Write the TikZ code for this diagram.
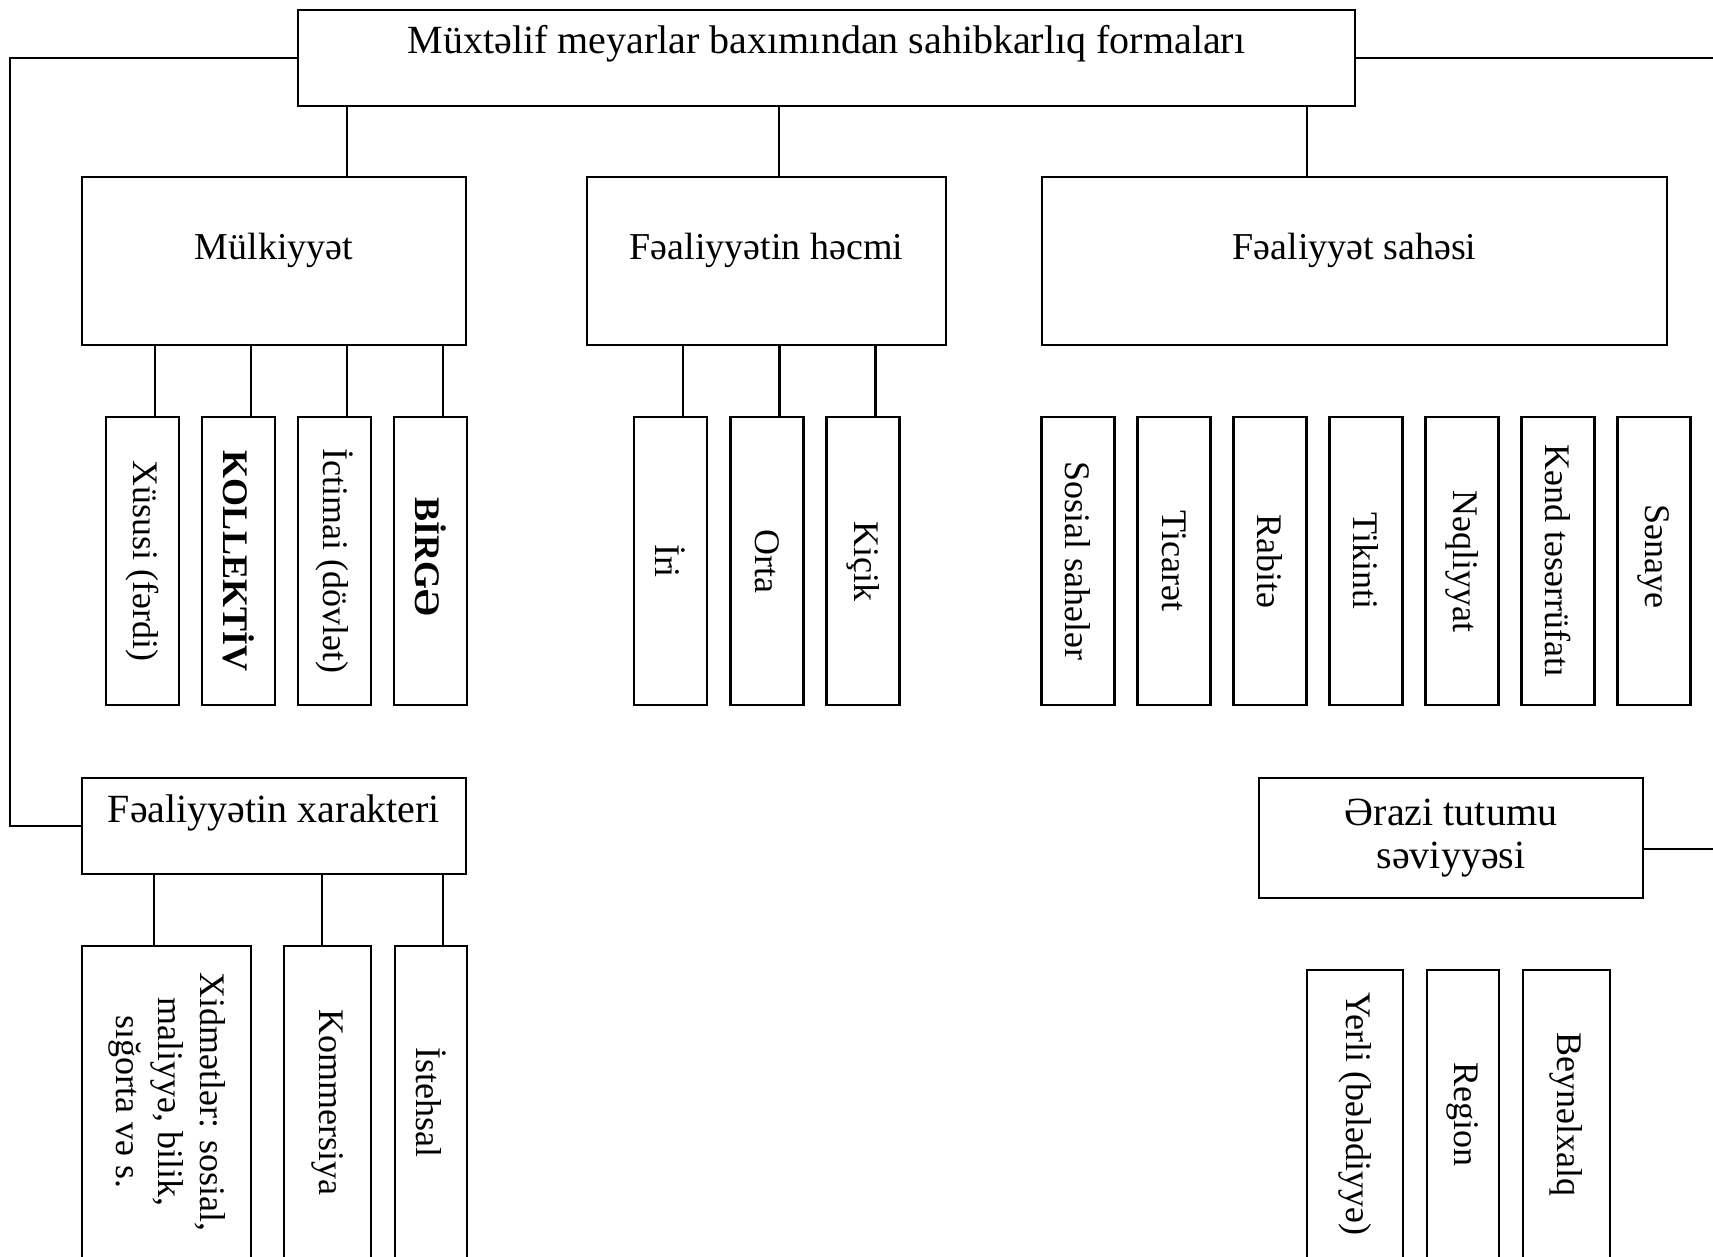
\documentclass[tikz,border=0pt]{standalone}
\usepackage{fontspec}
\setmainfont{Liberation Serif}
\usepackage{graphicx}
\usetikzlibrary{positioning}

\newcommand{\vtext}[1]{\rotatebox[origin=c]{-90}{#1}}

\begin{document}
\begin{tikzpicture}[x=1pt, y=-1pt, line width=2.2pt,
    box/.style={draw, inner sep=0pt, outer sep=0pt, font=\fontsize{38}{43}\selectfont},
    hdr/.style={box, text height=27pt},
    big/.style={font=\fontsize{40}{43}\selectfont},
    vbox/.style={draw, inner sep=0pt, outer sep=0pt, minimum width=73pt, minimum height=288pt, font=\fontsize{36}{42}\selectfont}]

    \clip (0,0) rectangle (1713,1256);
    \coordinate (trunkL) at (10,0);
    \coordinate (edgeR) at (1713,0);

    % Main box
    \node[hdr, big, minimum width=1057pt, minimum height=96pt, text depth=37pt] (main) at (826.5,58) {Müxtəlif meyarlar baxımından sahibkarlıq formaları};

    % Criteria
    \node[hdr, minimum width=384pt, minimum height=168pt, text depth=31pt] (mulk) at (274,261) {Mülkiyyət};
    \node[hdr, minimum width=359pt, minimum height=168pt, text depth=31pt] (hecm) at (766.5,261) {Fəaliyyətin həcmi};
    \node[hdr, minimum width=625pt, minimum height=168pt, text depth=31pt] (sahe) at (1354.5,261) {Fəaliyyət sahəsi};
    \node[hdr, big, minimum width=384pt, minimum height=96pt, text depth=35pt] (xarak) at (274,826) {Fəaliyyətin xarakteri};
    \node[box, big, minimum width=384pt, minimum height=120pt, align=center] (erazi) at (1451,838) {Ərazi tutumu\\səviyyəsi};

    \foreach \x/\n in {347/mulk, 779/hecm, 1307/sahe} {
        \draw (\x,0 |- main.south) -- (\x,0 |- \n.north);
    }

    % Ownership
    \foreach \i/\x/\v in {
            1/142.5/{Xüsusi (fərdi)},
            2/238.5/{\textbf{KOLLEKTİV}},
            3/334.5/{İctimai (dövlət)},
            4/430.5/{\textbf{BİRGƏ}}
            } {
        \node[vbox] (mk\i) at (\x,561) {\vtext{\v}};
        \draw ([xshift=12.5pt]mk\i.north) -- ([xshift=12.5pt]mk\i.north |- mulk.south);
    }

    % Volume
    \foreach \i/\x/\v in {1/670.5/İri, 2/767/Orta, 3/863/Kiçik} {
        \node[vbox] (hc\i) at (\x,561) {\vtext{\v}};
        \draw ([xshift=12.5pt]hc\i.north) -- ([xshift=12.5pt]hc\i.north |- hecm.south);
    }

    % Sectors
    \foreach \i/\v in {
            0/{Sosial sahələr},1/Ticarət,
            2/Rabitə,3/Tikinti,
            4/Nəqliyyat,5/{Kənd təsərrüfatı},
            6/Sənaye
            } {
        \node[vbox] (sh\i) at (1078+\i*96,561) {\vtext{\v}};
    }

    % Character
    \node[vbox, minimum width=169pt, minimum height=312pt] (xr1) at (166.5,1102)
        {\vtext{\begin{tabular}{@{}c@{}}Xidmətlər: sosial,\\ maliyyə, bilik,\\ sığorta və s.\end{tabular}}};
    \node[vbox, minimum width=87pt, minimum height=312pt] (xr2) at (327.5,1102) {\vtext{Kommersiya}};
    \node[vbox, minimum width=72pt, minimum height=312pt] (xr3) at (431,1102) {\vtext{İstehsal}};
    \foreach \i/\d in {1/-12.5, 2/-5.5, 3/12} {
        \draw ([xshift=\d pt]xr\i.north) -- ([xshift=\d pt]xr\i.north |- xarak.south);
    }

    % Territory
    \node[vbox, minimum width=96pt] (er1) at (1355,1114) {\vtext{Yerli (bələdiyyə)}};
    \node[vbox, minimum width=72pt] (er2) at (1463,1114) {\vtext{Region}};
    \node[vbox, minimum width=87pt] (er3) at (1566.5,1114) {\vtext{Beynəlxalq}};

    % Trunk lines
    \draw (main.west) -| (trunkL |- xarak.west) -- (xarak.west);
    \draw (main.east) -- (main.east -| edgeR);
    \draw ([yshift=-11pt]erazi.east) -- ([yshift=-11pt]erazi.east -| edgeR);
\end{tikzpicture}
\end{document}
